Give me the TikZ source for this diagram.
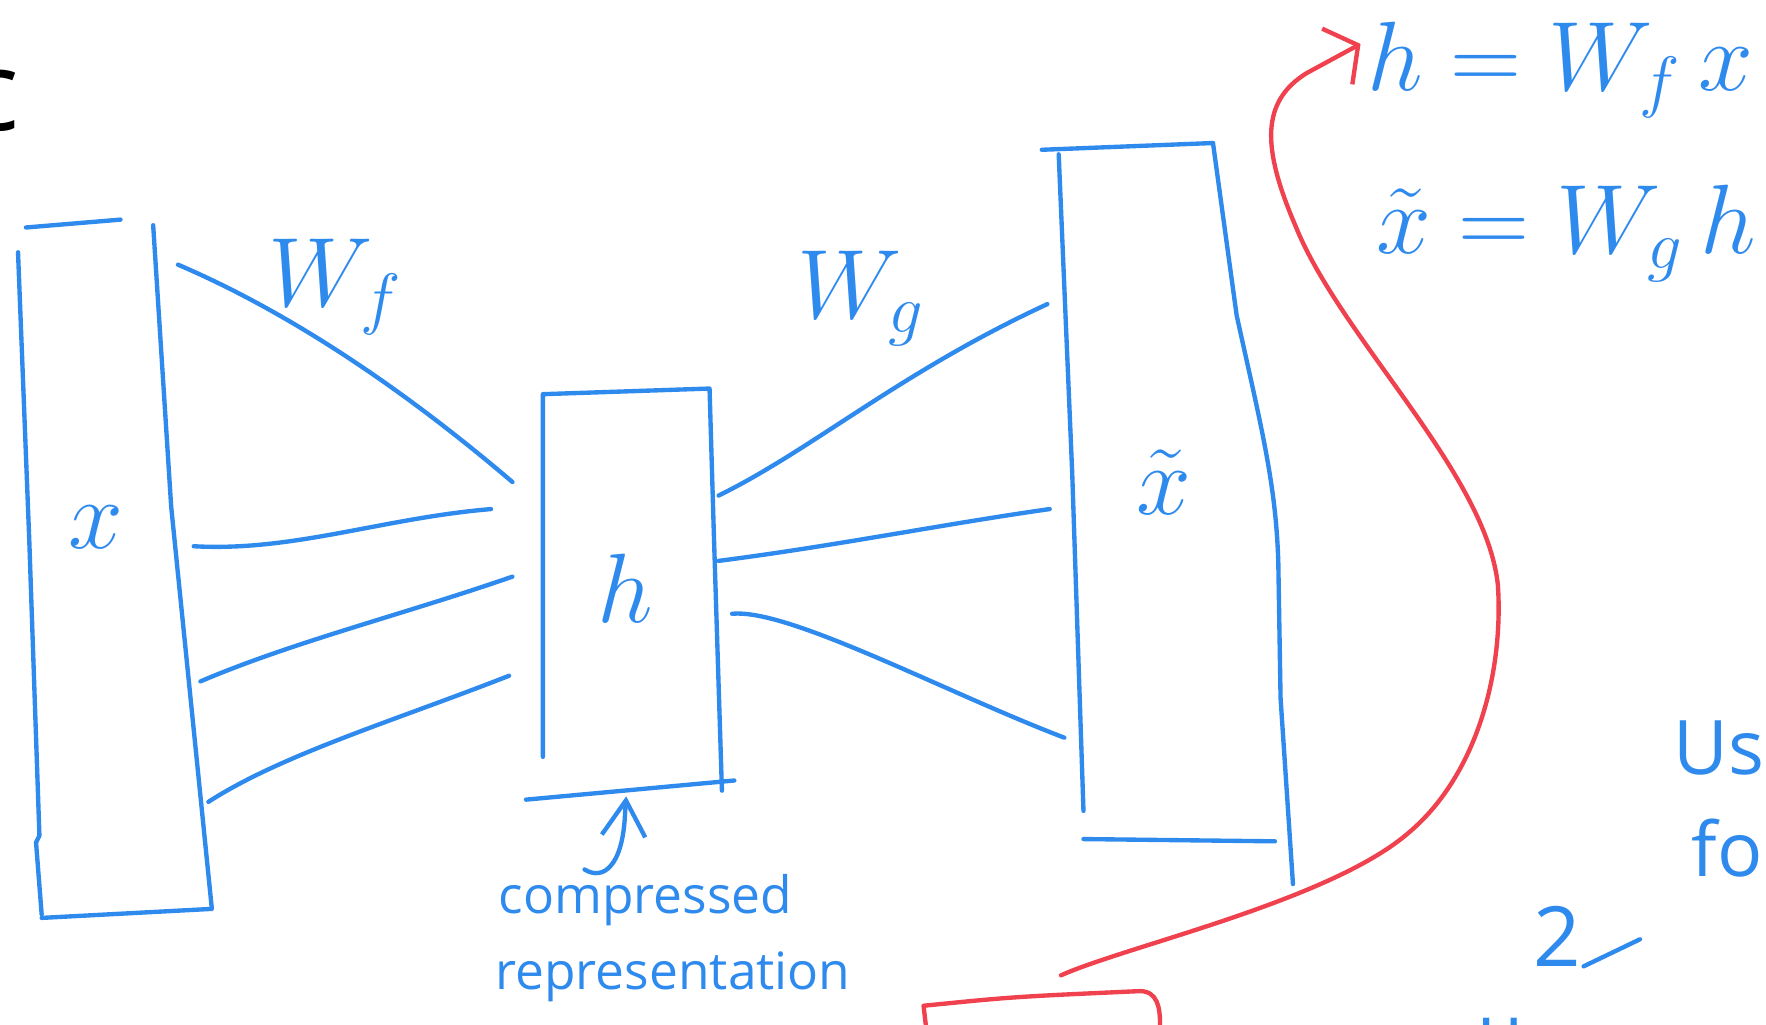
\documentclass[tikz,border=0pt]{standalone}
\usepackage{fontspec}
\setsansfont{Open Sans}
\usetikzlibrary{arrows.meta}
\definecolor{penblue}{HTML}{2F8AEE}
\definecolor{penred}{HTML}{F0414F}

\begin{document}
\begin{tikzpicture}[x=0.01cm,y=-0.01cm,line width=1.1pt,line cap=round,line join=round,
  ink/.style={penblue},
  redink/.style={penred},
  sym/.style={penblue,inner sep=0pt,font=\fontsize{26}{30}\selectfont},
  eq/.style={sym,anchor=base west,font=\fontsize{25}{30}\selectfont},
  note/.style={penblue,inner sep=0pt,anchor=base west,font=\sffamily\fontsize{13}{15}\selectfont},
  scrawl/.style={penblue,inner sep=0pt,anchor=base west,font=\sffamily\fontsize{19}{22}\selectfont}]
\useasboundingbox (0,0) rectangle (1568,910);
\clip (0,0) rectangle (1568,910);

% input layer x
\draw[ink] (23,202) -- (107,195);
\draw[ink] (16,224) -- (26,480) -- (35,742) -- (32,748) -- (37,812);
\draw[ink] (136,200) -- (152,450) -- (188,806);
\draw[ink] (37,815) -- (188,807);
% code layer h
\draw[ink] (482,672) -- (482,350) -- (630,345) -- (634,480) -- (641,702);
\draw[ink] (467,710) -- (652,693);
% output layer
\draw[ink] (925,133) -- (1077,127);
\draw[ink] (940,137) -- (952,420) -- (962,720);
\draw[ink] (1077,127) -- (1098,280) .. controls (1120,380) and (1133,430) .. (1135,500) -- (1137,620) -- (1148,785);
\draw[ink] (962,745) -- (1132,747);

% encoder weights
\draw[ink] (158,235) .. controls (240,270) and (340,330) .. (455,428);
\draw[ink] (172,485) .. controls (260,490) and (340,460) .. (436,452);
\draw[ink] (178,605) .. controls (260,570) and (360,545) .. (455,512);
\draw[ink] (185,712) .. controls (250,670) and (350,640) .. (452,600);
% decoder weights
\draw[ink] (638,440) .. controls (720,400) and (800,330) .. (930,270);
\draw[ink] (638,498) .. controls (740,485) and (840,465) .. (932,452);
\draw[ink] (650,545) .. controls (700,540) and (840,615) .. (945,655);

\node[sym] (wf) at (298,255) {$W_f$};
\node[sym] (wg) at (765,265) {$W_g$};
\node[sym] (xin) at (85,468) {$x$};
\node[sym] (hcode) at (555,522) {$h$};
\node[sym] (xout) at (1033,428) {$\tilde{x}$};

% label under the code
\coordinate (hbot) at (556,707);
\node[note] (comp) at (441,811) {compressed};
\node[note] (repr) at (438,879) {representation};
\draw[ink,-{Straight Barb[length=9pt,width=11pt]}] (519,772) .. controls (535,782) and (553,770) .. (555,722) -- (hbot);

% equations
\node[eq] (eqh) at (1212,80) {$h = W_f\,x$};
\node[eq] (eqx) at (1220,225) {$\tilde{x} = W_g\,h$};
\coordinate (tiph) at (1208,39);

% red marker
\draw[redink] (822,910) -- (820,893) .. controls (900,885) .. (1012,880) .. controls (1028,880) and (1030,895) .. (1030,910);
\draw[redink,-{Straight Barb[length=6pt,width=16pt]}] (942,866) .. controls (1000,840) and (1180,800) .. (1250,740)
  .. controls (1310,690) and (1335,600) .. (1330,520) .. controls (1320,420) and (1190,300) .. (1150,200)
  .. controls (1120,130) and (1120,90) .. (1160,65) -- (tiph);

% side notes
\node[scrawl] (use) at (1484,688) {Use};
\node[scrawl] (fo) at (1500,778) {fo};
\node[scrawl,font=\sffamily\fontsize{21}{24}\selectfont] (two) at (1360,858) {2};
\draw[ink] (two.base east) -- ++(50,-24);
\node[scrawl] (u) at (1310,940) {u};

\node[anchor=base east,inner sep=0pt,font=\sffamily\fontsize{28}{32}\selectfont] (c) at (19,116) {c};
\end{tikzpicture}
\end{document}
